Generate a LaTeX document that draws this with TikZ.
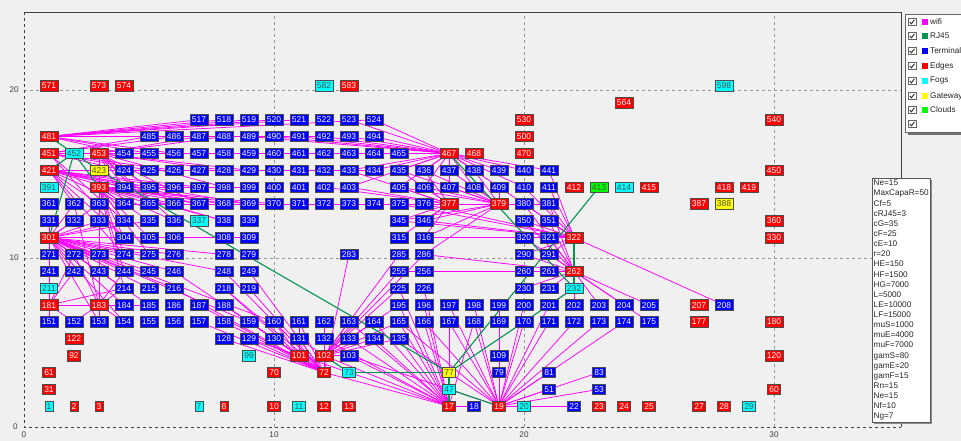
\documentclass[tikz,border=0pt]{standalone}
\usepackage{fontspec}
\setmainfont{Liberation Sans}
\pgfdeclarelayer{back}
\pgfdeclarelayer{bg}
\pgfsetlayers{back,bg,main}
\definecolor{wific}{RGB}{255,0,255}
\definecolor{rjc}{RGB}{0,150,80}
\definecolor{termc}{RGB}{0,0,255}
\definecolor{edgec}{RGB}{255,0,0}
\definecolor{fogc}{RGB}{0,255,255}
\definecolor{gatec}{RGB}{255,255,0}
\definecolor{cloudc}{RGB}{0,255,0}
\definecolor{bgc}{RGB}{240,240,240}
\definecolor{gridc}{RGB}{150,150,150}
\tikzset{
  nd/.style={draw=black!70, line width=0.6pt, font=\fontsize{8.5}{8.5}\selectfont,
    inner xsep=1.8pt, inner ysep=0pt, minimum height=10.5pt, text height=6pt, text depth=0pt},
  term/.style={nd, fill=termc, text=white},
  edgen/.style={nd, fill=edgec, text=white},
  fog/.style={nd, fill=fogc, text=black!70},
  gate/.style={nd, fill=gatec, text=black!70},
  cloud/.style={nd, fill=cloudc, text=black!70},
  wifiline/.style={draw=wific, line width=0.75pt},
  rjline/.style={draw=rjc, line width=1.1pt},
  tick/.style={font=\fontsize{8.2}{8.2}\selectfont, text=black!75, inner sep=0pt},
  info/.style={font=\fontsize{8.2}{10.13}\selectfont, align=left, inner sep=0pt, text=black!85},
  legtxt/.style={font=\fontsize{8.2}{8.2}\selectfont, inner sep=0pt, anchor=west, text=black!85},
}
\begin{document}
\begin{tikzpicture}[x=1pt,y=1pt]
\useasboundingbox (0,0) rectangle (961,441);
\begin{pgfonlayer}{back}
  \fill[bgc] (0,0) rectangle (961,441);
  % grid
  \foreach \gx in {274,524,774} \draw[gridc, dashed, line width=0.6pt] (\gx,14) -- (\gx,429);
  \foreach \gy in {183,351} \draw[gridc, dashed, line width=0.6pt] (24,\gy) -- (901,\gy);
  % frame
  \draw[black!75, line width=0.7pt] (24,429) -- (901,429) -- (901,14);
  \draw[black!75, dashed, line width=0.7pt] (24,429) -- (24,14) -- (901,14);
\end{pgfonlayer}
% tick labels
\node[tick, anchor=east] (ly0) at (18,14) {0};
\node[tick, anchor=east] (ly10) at (19,183) {10};
\node[tick, anchor=east] (ly20) at (19,351) {20};
\node[tick] (lx0) at (24,6) {0};
\node[tick] (lx10) at (274,6) {10};
\node[tick] (lx20) at (524,6) {20};
\node[tick] (lx30) at (774,6) {30};
% terminals
\foreach \n in {517,518,519,520,521,522,523,524,
 485,486,487,488,489,490,491,492,493,494,
 454,455,456,457,458,459,460,461,462,463,464,465,
 424,425,426,427,428,429,430,431,432,433,434,435,436,437,438,439,440,441,
 394,395,396,397,398,399,400,401,402,403,405,406,407,408,409,410,411,
 361,362,363,364,365,366,367,368,369,370,371,372,373,374,375,376,380,381,
 331,332,333,334,335,336,338,339,345,346,350,351,
 304,305,306,308,309,315,316,320,321,
 271,272,273,274,275,276,278,279,283,285,286,290,291,
 241,242,243,244,245,246,248,249,255,256,260,261,
 214,215,216,218,219,225,226,230,231,
 184,185,186,187,188,195,196,197,198,199,200,201,202,203,204,205,208,
 151,152,153,154,155,156,157,158,159,160,161,162,163,164,165,166,167,168,169,170,171,172,173,174,175,
 128,129,130,131,132,133,134,135,103,109,79,81,83,51,53,18,22}{
  \pgfmathtruncatemacro\cx{mod(\n-1,30)+1}
  \pgfmathtruncatemacro\cy{(\n-1)/30+1}
  \node[term] (n\n) at (24+25*\cx, 18+16.85*\cy) {\n};
}
% edges
\foreach \n in {571,573,574,583,564,530,540,481,500,451,453,467,468,470,421,450,393,412,415,418,419,
 377,379,387,301,322,330,360,262,181,183,207,177,180,122,92,101,102,120,61,70,72,31,60,
 2,3,8,10,12,13,17,19,23,24,25,27,28}{
  \pgfmathtruncatemacro\cx{mod(\n-1,30)+1}
  \pgfmathtruncatemacro\cy{(\n-1)/30+1}
  \node[edgen] (n\n) at (24+25*\cx, 18+16.85*\cy) {\n};
}
% fogs
\foreach \n in {582,598,452,391,414,337,211,232,99,73,47,1,7,11,20,29}{
  \pgfmathtruncatemacro\cx{mod(\n-1,30)+1}
  \pgfmathtruncatemacro\cy{(\n-1)/30+1}
  \node[fog] (n\n) at (24+25*\cx, 18+16.85*\cy) {\n};
}
% gateways
\foreach \n in {423,388,77}{
  \pgfmathtruncatemacro\cx{mod(\n-1,30)+1}
  \pgfmathtruncatemacro\cy{(\n-1)/30+1}
  \node[gate] (n\n) at (24+25*\cx, 18+16.85*\cy) {\n};
}
% clouds
\foreach \n in {413}{
  \pgfmathtruncatemacro\cx{mod(\n-1,30)+1}
  \pgfmathtruncatemacro\cy{(\n-1)/30+1}
  \node[cloud] (n\n) at (24+25*\cx, 18+16.85*\cy) {\n};
}
% connections
\begin{pgfonlayer}{bg}
\foreach \s/\ts in {
 481/{485,486,487,488,489,490,517,518,519,520,521,524,454,455,456,491,492},
 451/{454,455,456,457,458,459,460,424,425,426,485,486,461,462,463,304,334},
 453/{454,424,394,395,364,365,363,457,428,429,487,488,366,367,336,398},
 421/{424,425,426,427,428,394,395,396,397,362,363,364,431,432,434,367,368,369,338,274,304},
 393/{394,395,396,364,365,366,334,335,336,304,305,274,398,399,367,368,338,369,370,243,244,273,275,214},
 301/{304,305,306,308,309,274,275,276,278,334,335,244,245,246,214,215,216,362,363,333,332,272,273,242,243,184,185,271,241,248,331,159,160,153,154},
 181/{241,271,272,242,151,152,214,184},
 183/{243,273,244,272,214,153,154,362,363,333,184,185,152},
 467/{524,494,493,464,465,463,434,435,436,437,438,439,405,406,407,408,409,410,440,441,489,490,491,492,462,523,433,403},
 377/{364,365,366,367,368,369,370,375,376,345,346,315,316,403,405,406,435,436,402,433},
 379/{375,376,345,346,405,406,407,408,409,435,436,437,438,380,381,316,286},
 322/{380,381,350,351,320,321,290,291,346,345,441,411,410,409,208,316,375,376},
 262/{320,321,290,291,260,261,230,231,202,203,204,205,175,256,286,351,381,380,350,255},
 232/{202,201},
 72/{128,129,130,131,158,159,160,161,188,219,249,283,157,187,132,162,17,218,248,216,246},
 101/{130,131,160,161,129,188,159,218},
 102/{131,132,133,134,162,163,164,165,285,103,135,195,286,225,255},
 17/{102,101,103,133,134,135,163,164,165,166,167,195,196,225,132,168,18,226},
 19/{109,79,81,83,51,53,22,168,169,170,171,172,173,174,199,200,201,135,165,166,167,197,198,103}}{
  \foreach \t in \ts {\draw[wifiline] (n\s.center) -- (n\t.center);}
}
\foreach \s/\t in {452/481,452/421,452/393,452/301,452/423,423/77,467/232,413/77,322/262,262/232,232/77,102/73,73/77,77/47,47/17,47/19}{
  \draw[rjline] (n\s.center) -- (n\t.center);
}
\end{pgfonlayer}
% legend
\fill[black!55] (908,306) rectangle (970,424);
\draw[black!60, fill=white, line width=0.6pt] (905,309) rectangle (968,427);
\foreach \yy/\cc/\ll [count=\i] in {419/wific/wifi,405/rjc/RJ45,390/termc/Terminal,375/edgec/Edges,360/fogc/Fogs,345/gatec/Gateway,331/cloudc/Clouds}{
  \node[draw=black!60, fill=white, line width=0.5pt, minimum size=7.5pt, inner sep=0pt] (cb\i) at (912,\yy) {};
  \draw[line width=0.9pt, black!85] ([xshift=-2.2pt]cb\i.center) -- ([xshift=-0.6pt,yshift=-1.8pt]cb\i.center) -- ([xshift=2.4pt,yshift=2.2pt]cb\i.center);
  \node[fill=\cc, minimum size=6.5pt, inner sep=0pt] (sq\i) at (925,\yy) {};
  \node[legtxt] (lt\i) at (930,\yy) {\ll};
}
\node[draw=black!60, fill=white, line width=0.5pt, minimum size=7.5pt, inner sep=0pt] (cb8) at (912,317) {};
\draw[line width=0.9pt, black!85] ([xshift=-2.2pt]cb8.center) -- ([xshift=-0.6pt,yshift=-1.8pt]cb8.center) -- ([xshift=2.4pt,yshift=2.2pt]cb8.center);
% info box
\fill[black!45] (874,17) rectangle (932,261);
\draw[black!65, fill=white, line width=0.6pt] (872,19) rectangle (930,263);
\node[info, anchor=north west] (infotxt) at (873.5,261) {Ne=15\\MaxCapaR=50\\Cf=5\\cRJ45=3\\cG=35\\cF=25\\cE=10\\r=20\\HE=150\\HF=1500\\HG=7000\\L=5000\\LE=10000\\LF=15000\\muS=1000\\muE=4000\\muF=7000\\gamS=80\\gamE=20\\gamF=15\\Rn=15\\Ne=15\\Nf=10\\Ng=7};
\end{tikzpicture}
\end{document}
